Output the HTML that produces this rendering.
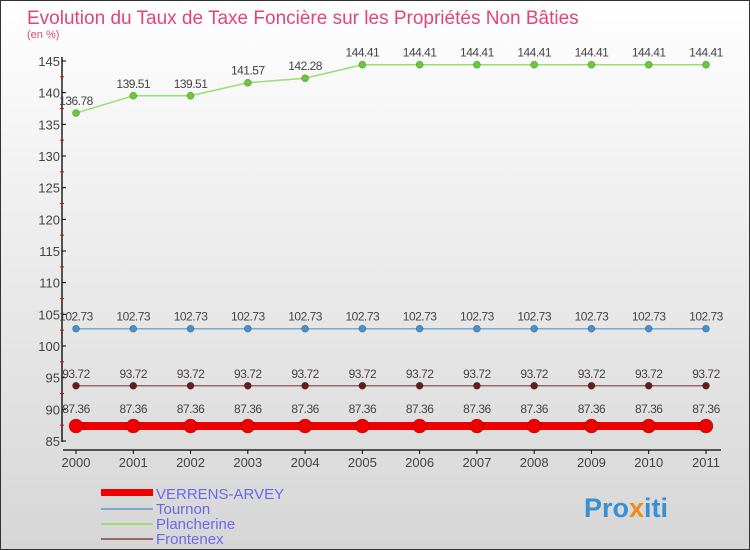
<!DOCTYPE html>
<html><head><meta charset="utf-8"><style>
body{margin:0}
#c{width:750px;height:550px;position:relative;box-sizing:border-box;border:1px solid #333;background:linear-gradient(#fff,#f2f2f2 30%,#d6d6d6);font-family:"Liberation Sans",sans-serif;overflow:hidden}
</style></head><body>
<div id="c">
<svg id="s" width="750" height="550" style="position:absolute;left:0;top:0" font-family="Liberation Sans, sans-serif">
<text x="26" y="23" font-size="19" fill="#e0457a">Evolution du Taux de Taxe Foncière sur les Propriétés Non Bâties</text>
<text x="26" y="37" font-size="11" fill="#e0457a">(en %)</text>
<g id="ax"></g><g id="ser"></g>
<g>
<rect x="100" y="488" width="52" height="7" fill="#e00"/>
<text x="155" y="498" font-size="15" fill="#6a6ae8">VERRENS-ARVEY</text>
<rect x="100" y="507" width="52" height="2" fill="#7aaacc"/>
<text x="155" y="513" font-size="15" fill="#6a6ae8">Tournon</text>
<rect x="100" y="522" width="52" height="2" fill="#99dd77"/>
<text x="155" y="528" font-size="15" fill="#6a6ae8">Plancherine</text>
<rect x="100" y="537" width="52" height="2" fill="#996666"/>
<text x="155" y="543" font-size="15" fill="#6a6ae8">Frontenex</text>
</g>
<text x="583" y="516" font-size="27" font-weight="bold" fill="#3a8fd0">Pro<tspan fill="#f08a1a">x</tspan>iti</text>
</svg>
</div>
<script>
const years=["2000","2001","2002","2003","2004","2005","2006","2007","2008","2009","2010","2011"];
const verrens=[87.36,87.36,87.36,87.36,87.36,87.36,87.36,87.36,87.36,87.36,87.36,87.36];
const tournon=[102.73,102.73,102.73,102.73,102.73,102.73,102.73,102.73,102.73,102.73,102.73,102.73];
const plancherine=[136.78,139.51,139.51,141.57,142.28,144.41,144.41,144.41,144.41,144.41,144.41,144.41];
const frontenex=[93.72,93.72,93.72,93.72,93.72,93.72,93.72,93.72,93.72,93.72,93.72,93.72];
const yTicks=[85,90,95,100,105,110,115,120,125,130,135,140,145];
const NS="http://www.w3.org/2000/svg";
const x=i=>75+i*(705-75)/(years.length-1);
const y=v=>440-(v-85)*(380/60);
function mk(t,a,p){const e=document.createElementNS(NS,t);for(const k in a)e.setAttribute(k,a[k]);p.appendChild(e);return e;}
const ax=document.getElementById('ax'),ser=document.getElementById('ser');
const yl=mk('line',{x1:61,y1:56,x2:61,y2:441,stroke:'#000','stroke-width':1.3},ax);


yTicks.forEach((v,i)=>{
 mk('line',{x1:61,y1:y(v),x2:65,y2:y(v),stroke:'#000'},ax);
 if(i<yTicks.length-1)mk('line',{x1:59,y1:y(v+2.5),x2:63,y2:y(v+2.5),stroke:'#e00'},ax);
 const t=mk('text',{x:59,y:y(v)+5,'font-size':13,'text-anchor':'end',fill:'#444'},ax);t.textContent=v;
 
 
});
const xl=mk('line',{x1:62,y1:449,x2:720,y2:449,stroke:'#000','stroke-width':1.3},ax);


years.forEach((yr,i)=>{
 mk('line',{x1:x(i),y1:449,x2:x(i),y2:453,stroke:'#000'},ax);
 const t=mk('text',{x:x(i),y:466,'font-size':13,'text-anchor':'middle',fill:'#444'},ax);t.textContent=yr;
 
 
});
function series(name,data,color,w,r,dot){
 const g=mk('g',{},ser);
 
 
 mk('polyline',{points:data.map((v,i)=>x(i)+','+y(v)).join(' '),fill:'none',stroke:color,'stroke-width':w},g);
 data.forEach((v,i)=>{
  const c=mk('circle',{cx:x(i),cy:y(v),r:r,fill:dot,stroke:'rgba(0,0,0,0.3)','stroke-width':0.7},g);
  
  
  const t=mk('text',{x:x(i),y:y(v)-8-(r>5?5:0),'font-size':12,'text-anchor':'middle',fill:'#444','letter-spacing':'-0.5'},g);
  t.textContent=v.toFixed(2);
  
  
 });
}
series('plancherine',plancherine,'#99dd77',1.5,3.5,'#66cc33');
series('tournon',tournon,'#7aaacc',1.5,3.5,'#4a90c8');
series('frontenex',frontenex,'#996666',1.5,3.5,'#6b1a1a');
series('verrens',verrens,'#ee0000',8,7,'#ee0000');
</script>
</body></html>
